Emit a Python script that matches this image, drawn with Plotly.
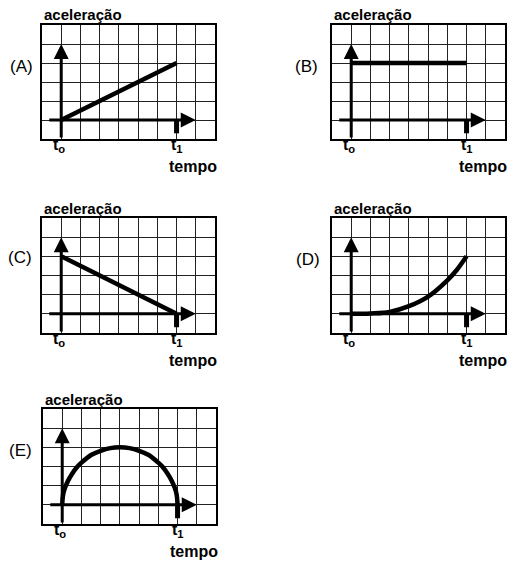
import plotly.graph_objects as go

W, H = 519, 561

# reading of each graph, in grid units: t0 = 0, t1 = 6, one square = 1
panels = ['A', 'B', 'C', 'D', 'E']
t_A = [0, 6]
a_A = [0, 3]
t_B = [0, 6]
a_B = [3, 3]
t_C = [0, 6]
a_C = [3, 0]
t_D = [0, 1, 2, 3, 4, 5, 5.5, 6]
a_D = [0, 0.02, 0.1, 0.4, 0.9, 1.75, 2.3, 3.0]
t_E = [0, 0.05, 0.15, 0.3, 0.5, 0.75, 1, 1.5, 2, 2.5, 3, 3.5, 4, 4.5, 5, 5.25, 5.5, 5.7, 5.85, 5.95, 6]
a_E = [0, 0.55, 0.9, 1.25, 1.6, 1.95, 2.2, 2.6, 2.82, 2.96, 3.0, 2.96, 2.82, 2.6, 2.2, 1.95, 1.6, 1.25, 0.9, 0.55, 0]
series = {'A': (t_A, a_A), 'B': (t_B, a_B), 'C': (t_C, a_C), 'D': (t_D, a_D), 'E': (t_E, a_E)}

t0, t1 = 0, 6
y_top = 4     # tip of the vertical arrow
x_end = 7     # tip of the horizontal arrow

# grid boxes in pixels (left, right, top, bottom)
boxes = {'A': (42, 215, 25, 139), 'B': (332, 505, 25, 139),
         'C': (42, 215, 218, 333), 'D': (332, 505, 218, 333),
         'E': (43, 216, 409, 524)}
letter_pos = {'A': (21, 66), 'B': (306, 66), 'C': (20, 257), 'D': (308, 259), 'E': (20, 450)}

FONT = 'Liberation Sans, Arial, sans-serif'

fig = go.Figure()
annotations = []
shapes = []

for i, p in enumerate(panels):
    n = '' if i == 0 else str(i + 1)
    xa, ya = 'x' + n, 'y' + n
    l, r, t, b = boxes[p]
    axis_common = dict(dtick=1, tick0=0, showgrid=True, gridcolor='#222', gridwidth=1,
                       showline=True, mirror=True, linecolor='black', linewidth=2,
                       showticklabels=False, ticks='', zeroline=False, fixedrange=True)
    fig.layout['xaxis' + n] = dict(domain=[l / W, r / W], range=[-1, 8], anchor=ya, **axis_common)
    fig.layout['yaxis' + n] = dict(domain=[1 - b / H, 1 - t / H], range=[-1, 5], anchor=xa, **axis_common)

    tx, ay = series[p]
    fig.add_trace(go.Scatter(x=tx, y=ay, mode='lines', xaxis=xa, yaxis=ya,
                             line=dict(color='black', width=4.5, shape='spline' if p in 'DE' else 'linear'),
                             showlegend=False, hoverinfo='skip'))

    # axes with arrows
    annotations.append(dict(x=t0, y=y_top, ax=t0, ay=-1, xref=xa, yref=ya, axref=xa, ayref=ya,
                            text='', showarrow=True, arrowhead=2, arrowsize=1, arrowwidth=3,
                            arrowcolor='black', standoff=0))
    annotations.append(dict(x=x_end, y=0, ax=-0.7, ay=0, xref=xa, yref=ya, axref=xa, ayref=ya,
                            text='', showarrow=True, arrowhead=2, arrowsize=1, arrowwidth=3,
                            arrowcolor='black', standoff=0))
    shapes.append(dict(type='line', xref=xa, yref=ya, x0=t1, x1=t1, y0=0, y1=-0.7,
                       line=dict(color='black', width=5)))

    # texts
    annotations.append(dict(x=l / W, y=1 - (t - 10) / H, xref='paper', yref='paper',
                            xanchor='left', yanchor='middle', showarrow=False,
                            text='<b>aceleração</b>', font=dict(family=FONT, size=15, color='black')))
    lx, lyy = letter_pos[p]
    annotations.append(dict(x=lx / W, y=1 - lyy / H, xref='paper', yref='paper',
                            xanchor='center', yanchor='middle', showarrow=False,
                            text='(' + p + ')', font=dict(family=FONT, size=17, color='black')))
    annotations.append(dict(x=t0, y=-1, xref=xa, yref=ya, xanchor='center', yanchor='top',
                            yshift=5, xshift=-2, showarrow=False,
                            text='<b>t<sub>o</sub></b>', font=dict(family=FONT, size=16, color='black')))
    annotations.append(dict(x=t1, y=-1, xref=xa, yref=ya, xanchor='center', yanchor='top',
                            yshift=5, showarrow=False,
                            text='<b>t<sub>1</sub></b>', font=dict(family=FONT, size=16, color='black')))
    annotations.append(dict(x=t1, y=-1, xref=xa, yref=ya, xanchor='center', yanchor='middle',
                            yshift=-27, xshift=16, showarrow=False,
                            text='<b>tempo</b>', font=dict(family=FONT, size=16, color='black')))

fig.update_layout(width=W, height=H, autosize=False, margin=dict(l=0, r=0, t=0, b=0),
                  paper_bgcolor='white', plot_bgcolor='white',
                  annotations=annotations, shapes=shapes)

# the page's default body margin would shift the chart by 8px
fig.write_html("out.html", config={'displayModeBar': False},
               post_script="document.body.style.margin='0';")
